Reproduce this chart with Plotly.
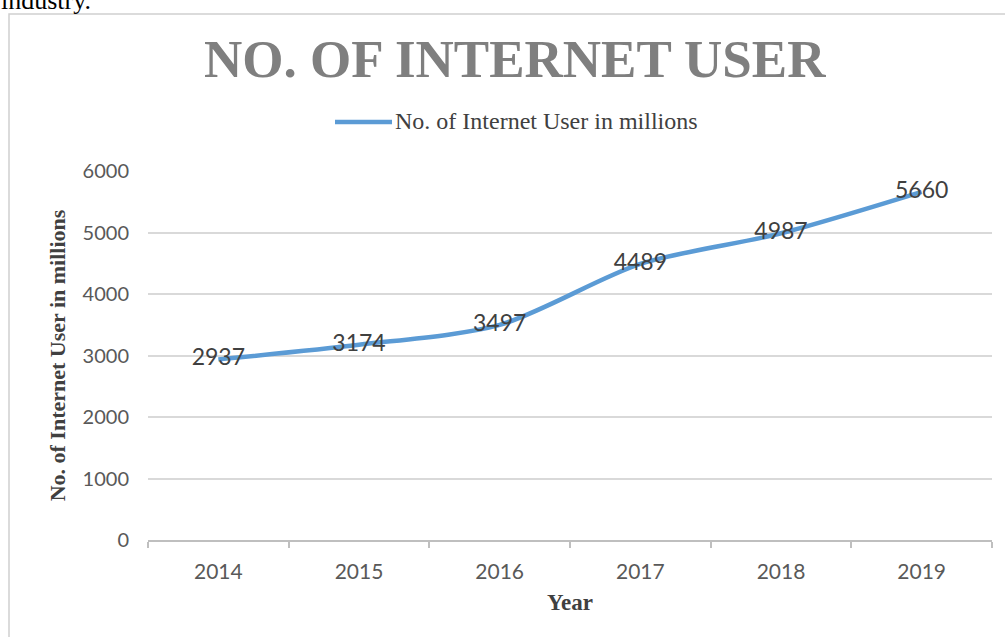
import plotly.graph_objects as go

years = ["2014", "2015", "2016", "2017", "2018", "2019"]
users = [2937, 3174, 3497, 4489, 4987, 5660]
y_ticks = [0, 1000, 2000, 3000, 4000, 5000, 6000]
series_name = "No. of Internet User in millions"

W, H = 1005, 637
def px(x):
    return x / W
def py(y):
    return 1 - y / H

sans = "Lato, Open Sans, sans-serif"
serif = "Liberation Serif, Times New Roman, serif"
line_color = "#5b9bd5"

fig = go.Figure()
fig.add_trace(go.Scatter(
    x=years, y=users, mode="lines+text",
    name=series_name, showlegend=False,
    text=[str(v) for v in users], textposition="middle center",
    textfont=dict(family=sans, size=23, color="#404040"),
    line=dict(color=line_color, width=4.5, shape="spline", smoothing=0.8),
    cliponaxis=False,
))

fig.update_layout(
    width=W, height=H,
    margin=dict(l=0, r=0, t=0, b=0, autoexpand=False),
    paper_bgcolor="white", plot_bgcolor="white",
    showlegend=False,
    xaxis=dict(domain=[px(148), px(992)], range=[-0.5, 5.5], type="category",
               showline=True, linecolor="#bfbfbf", linewidth=2,
               ticks="outside", ticklen=6, tickcolor="#bfbfbf", tickwidth=1.5,
               tickson="boundaries", showgrid=False, automargin=False,
               ticklabelstandoff=12,
               tickfont=dict(family=sans, size=21, color="#595959"),
               title=dict(text="<b>Year</b>", font=dict(family=serif, size=23, color="#404040"),
                          standoff=12)),
    yaxis=dict(domain=[py(540), py(171)], range=[0, 6000], tickvals=y_ticks,
               showline=False, showgrid=True, gridcolor="#d9d9d9", gridwidth=1.5,
               zeroline=False, ticks="", ticklabelstandoff=18, automargin=False,
               tickfont=dict(family=sans, size=20, color="#595959"),
               title=dict(text="<b>" + series_name + "</b>",
                          font=dict(family=serif, size=22, color="#404040"), standoff=10)),
)

# title
fig.add_annotation(text="<b>NO. OF INTERNET USER</b>", xref="paper", yref="paper",
                   x=px(515), y=py(59), xanchor="center", yanchor="middle", showarrow=False,
                   font=dict(family=serif, size=53, color="#7f7f7f"))

# legend (drawn manually so the sample line matches the original length)
fig.add_shape(type="line", xref="paper", yref="paper",
              x0=px(335), x1=px(392), y0=py(122), y1=py(122),
              line=dict(color=line_color, width=4.5))
fig.add_annotation(text=series_name, xref="paper", yref="paper",
                   x=px(393), y=py(121), xanchor="left", yanchor="middle", showarrow=False,
                   font=dict(family=serif, size=24, color="#404040"))

# surrounding document text (cut off at the top, as in the original page)
fig.add_annotation(text="industry.", xref="paper", yref="paper",
                   x=px(-1), y=py(17), xanchor="left", yanchor="bottom", showarrow=False,
                   font=dict(family=serif, size=26, color="#000000"))

# chart frame
fig.add_shape(type="rect", xref="paper", yref="paper",
              x0=px(9), x1=px(1012), y0=py(645), y1=py(14),
              line=dict(color="#d0d0d0", width=1.5), fillcolor="rgba(0,0,0,0)", layer="below")

fig.write_html("out.html")
